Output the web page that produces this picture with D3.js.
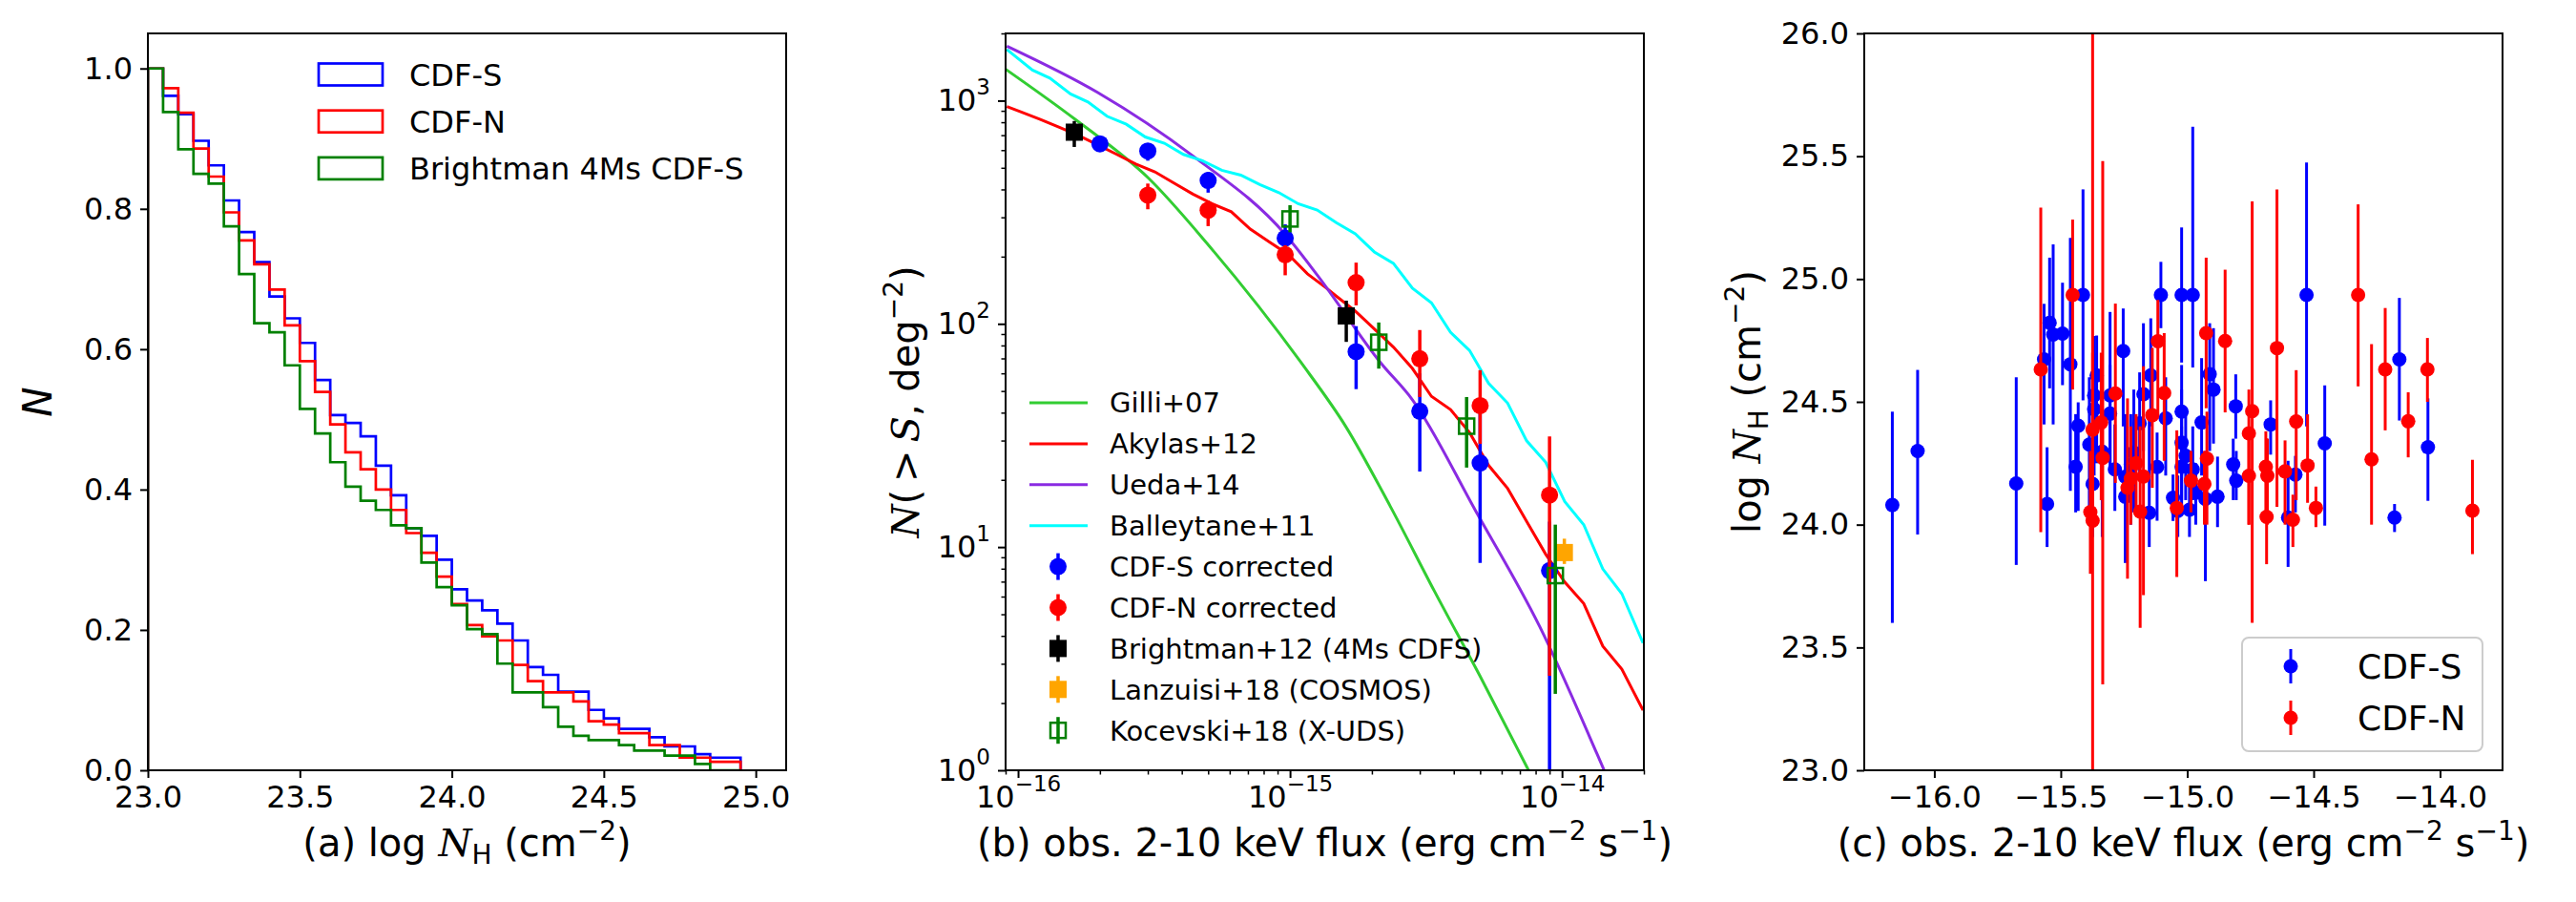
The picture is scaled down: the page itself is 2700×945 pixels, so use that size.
<!DOCTYPE html>
<html>
<head>
<meta charset="utf-8">
<script src="https://cdn.jsdelivr.net/npm/d3@7"></script>
<style>
  body { margin:0; background:#fff; }
  text { font-family:"DejaVu Sans", sans-serif; fill:#000; }
</style>
</head>
<body>
<svg id="fig" width="2700" height="945"></svg>
<script>
// ---------- panel (a): cumulative NH distributions (0.05 dex bins) ----------
const binStarts = [23.00,23.05,23.10,23.15,23.20,23.25,23.30,23.35,23.40,23.45,
  23.50,23.55,23.60,23.65,23.70,23.75,23.80,23.85,23.90,23.95,
  24.00,24.05,24.10,24.15,24.20,24.25,24.30,24.35,24.40,24.45,
  24.50,24.55,24.60,24.65,24.70,24.75,24.80,24.85,24.90]
const lastEdge = 24.95
const histCdfs = [1.0,0.961,0.935,0.897,0.862,0.812,0.767,0.724,0.675,0.644,
  0.609,0.556,0.506,0.495,0.476,0.434,0.392,0.345,0.334,0.300,
  0.258,0.242,0.228,0.209,0.185,0.147,0.136,0.112,0.112,0.086,
  0.074,0.059,0.059,0.047,0.034,0.034,0.023,0.018,0.018]
const histCdfn = [1.0,0.972,0.937,0.886,0.846,0.795,0.755,0.721,0.685,0.634,
  0.583,0.539,0.493,0.453,0.429,0.400,0.371,0.338,0.310,0.276,
  0.237,0.207,0.191,0.185,0.150,0.127,0.111,0.111,0.098,0.070,
  0.065,0.053,0.053,0.036,0.036,0.018,0.018,0.012,0.012]
const histBright = [1.0,0.938,0.885,0.850,0.836,0.775,0.707,0.637,0.624,0.577,
  0.515,0.480,0.439,0.404,0.384,0.371,0.349,0.345,0.296,0.261,
  0.235,0.201,0.194,0.152,0.111,0.111,0.090,0.062,0.049,0.043,
  0.043,0.036,0.028,0.028,0.021,0.021,0.009,0,0]
const histNames = ["CDF-S","CDF-N","Brightman 4Ms CDF-S"]
const histColors = ["#0000ff","#ff0000","#008000"]

// ---------- panel (b): logN-logS models (log10 S, log10 N) ----------
const gilliLogS = [-16.045,-15.79,-15.52,-15.30,-14.959,-14.795,-14.632,-14.468,-14.292,-14.123]
const gilliLogN = [3.14,2.916,2.652,2.353,1.826,1.540,1.184,0.80,0.40,0.0]
const akylasLogS = [-16.041,-15.988,-15.918,-15.848,-15.778,-15.708,-15.637,-15.567,-15.497,-15.427,
  -15.357,-15.287,-15.216,-15.146,-15.076,-15.006,-14.936,-14.866,-14.83,-14.76,-14.69,-14.62,
  -14.55,-14.48,-14.41,-14.34,-14.27,-14.2,-14.13,-14.06,-13.99,-13.92,-13.85,-13.78,-13.702]
const akylasLogN = [2.973,2.949,2.916,2.88,2.844,2.802,2.759,2.716,2.681,2.631,
  2.581,2.538,2.502,2.424,2.367,2.31,2.224,2.16,2.124,2.057,1.977,1.896,
  1.8,1.675,1.616,1.513,1.366,1.263,1.115,0.968,0.843,0.747,0.556,0.453,0.269]
const uedaLogS = [-16.041,-15.708,-15.357,-15.017,-14.9,-14.667,-14.55,-14.316,-14.082,-13.871,-13.845]
const uedaLogN = [3.244,3.037,2.752,2.40,2.219,1.826,1.66,1.159,0.644,0.073,0.0]
const ballLogS = [-16.041,-15.947,-15.883,-15.807,-15.743,-15.673,-15.602,-15.532,-15.462,-15.392,
  -15.322,-15.251,-15.181,-15.111,-15.041,-14.97,-14.9,-14.83,-14.76,-14.69,-14.62,-14.55,
  -14.48,-14.41,-14.34,-14.27,-14.2,-14.13,-14.06,-13.99,-13.92,-13.85,-13.78,-13.702]
const ballLogN = [3.229,3.137,3.101,3.03,2.994,2.93,2.894,2.837,2.809,2.759,
  2.731,2.688,2.666,2.624,2.588,2.538,2.51,2.453,2.403,2.322,2.271,2.16,
  2.094,1.962,1.881,1.734,1.645,1.476,1.38,1.204,1.1,0.902,0.791,0.57]

// panel (b) measured points
const cdfsFlux = [2.0e-16,3.0e-16,5.0e-16,9.6e-16,1.75e-15,3.0e-15,5.0e-15,9.0e-15]
const cdfsN    = [640,595,439,242,75,40.6,23.8,7.84]
const cdfsLo   = [610,538,387,218,51,21.8,8.5,0.5]
const cdfsHi   = [675,644,479,279,97.6,60,40,13]
const cdfnFlux = [3.0e-16,5.0e-16,9.6e-16,1.75e-15,3.0e-15,5.0e-15,9.0e-15]
const cdfnN    = [377,323,204,153,69.8,43,17.1]
const cdfnLo   = [326,274,165,121,47,29,2.65]
const cdfnHi   = [425,357,225,188,93.8,62,31.3]
const brightFlux = [1.61e-16,1.61e-15]
const brightN    = [722,108.5]
const brightLo   = [620,83]
const brightHi   = [810,127]
const lanzFlux = [1.02e-14]
const lanzN    = [9.45]
const lanzLo   = [8.4]
const lanzHi   = [10.9]
const kocFlux = [1.0e-15,2.12e-15,4.46e-15,9.45e-15]
const kocN    = [295,82.7,34.8,7.45]
const kocLo   = [257,63,22.7,2.2]
const kocHi   = [340,101.4,47,12.6]

// ---------- panel (c): log NH vs log flux ----------
const cLogS = [-16.166,-16.066,-15.676,-15.554,-15.566,-15.544,-15.530,-15.493,-15.462,-15.412,
  -15.431,-15.441,-15.387,-15.374,-15.368,-15.368,-15.358,-15.336,-15.305,-15.305,
  -15.286,-15.253,-15.245,-15.245,-15.223,-15.211,-15.188,-15.173,-15.150,-15.144,
  -15.119,-15.104,-15.085,-15.056,-15.037,-15.022,-15.022,-15.022,-15.022,-14.978,
  -15.006,-14.978,-14.991,-14.966,-14.943,-14.928,-14.911,-14.896,-14.880,-14.818,
  -14.808,-14.806,-14.670,-14.601,-14.572,-14.528,-14.456,-14.180,-14.161,-14.048]
const cLogNH = [24.08,24.30,24.168,24.084,24.673,24.822,24.774,24.778,24.653,24.935,
  24.403,24.236,24.326,24.166,24.526,24.47,24.608,24.297,24.526,24.452,
  24.225,24.707,24.195,24.114,24.245,24.294,24.413,24.531,24.048,24.608,
  24.235,24.935,24.433,24.109,24.056,24.935,24.46,24.334,24.236,24.935,
  24.28,24.225,24.061,24.13,24.416,24.105,24.613,24.55,24.114,24.245,
  24.482,24.179,24.408,24.029,24.204,24.935,24.331,24.029,24.673,24.315]
const cLo = [23.60,23.96,23.836,23.909,24.408,24.555,24.408,24.568,24.138,24.506,
  24.056,24.05,24.0,23.95,24.277,24.2,24.25,23.95,24.212,24.25,
  24.056,24.4,23.95,23.844,24.0,24.05,24.2,24.3,23.909,24.4,
  24.016,24.8,24.2,24.015,23.95,24.66,24.2,24.1,24.05,24.64,
  24.1,24.1,23.95,24.0,24.2,23.77,24.3,24.33,23.99,24.1,
  24.35,24.1,24.285,23.828,24.05,24.40,23.996,23.97,24.424,24.097]
const cHi = [24.46,24.63,24.60,24.315,24.899,25.087,25.141,24.985,25.167,25.365,
  24.498,24.45,24.6,24.4,24.768,24.7,24.77,24.6,24.866,24.65,
  24.408,24.88,24.45,24.31,24.45,24.55,24.62,24.82,24.44,24.84,
  24.375,25.07,24.6,24.204,24.2,25.21,24.65,24.55,24.4,25.62,
  24.45,24.4,24.2,24.25,24.678,24.3,24.82,24.8,24.277,24.35,
  24.612,24.3,24.506,24.26,24.28,25.474,24.567,24.084,24.923,24.514]
const nLogS = [-15.579,-15.453,-15.383,-15.374,-15.334,-15.374,-15.340,-15.284,-15.236,-15.223,
  -15.202,-15.186,-15.173,-15.138,-15.116,-15.091,-15.041,-14.985,-14.932,-14.922,
  -14.925,-14.850,-14.756,-14.756,-14.743,-14.689,-14.683,-14.686,-14.645,-14.613,
  -14.582,-14.569,-14.524,-14.491,-14.324,-14.271,-14.217,-14.126,-14.050,-13.872]
const nLogNH = [24.632,24.935,24.051,24.016,24.272,24.387,24.416,24.534,24.15,24.187,
  24.25,24.053,24.196,24.446,24.747,24.536,24.068,24.179,24.166,24.269,
  24.78,24.748,24.372,24.199,24.462,24.236,24.199,24.032,24.719,24.217,
  24.02,24.42,24.241,24.068,24.935,24.266,24.632,24.421,24.632,24.057]
const nLo = [23.97,24.55,23.8,22.5,23.35,24.0,24.1,24.17,23.78,24.0,
  24.05,23.58,23.713,24.15,24.45,24.26,23.787,24.05,24.0,24.0,
  24.474,24.457,24.0,24.0,23.6,24.05,24.0,23.839,24.073,24.0,
  23.909,24.1,24.089,23.99,24.563,24.0,24.384,24.274,24.5,23.88]
const nHi = [25.291,25.242,24.3,26.5,25.48,24.7,24.7,24.9,24.514,24.4,
  24.45,24.4,24.645,24.72,24.915,24.78,24.384,24.3,24.3,24.46,
  25.087,25.038,24.55,24.35,25.316,24.38,24.35,24.351,25.365,24.343,
  24.122,24.629,24.449,24.155,25.304,24.735,24.882,24.539,24.76,24.264]

// ---------- layout ----------
const svg = d3.select("#fig")
const yTop = 35, yBot = 807
const tickFs = 32, labFs = 40
const minus = "\u2212"
const mathFont = "DejaVu Serif"

function frame(x0, x1) {
  svg.append("rect").attr("x", x0).attr("y", yTop).attr("width", x1 - x0).attr("height", yBot - yTop)
    .attr("fill", "none").attr("stroke", "#000").attr("stroke-width", 2)
}
function styleAxis(g, size) {
  g.select(".domain").remove()
  g.selectAll(".tick line").attr("stroke", "#000").attr("stroke-width", size > 5 ? 2 : 1.5)
  g.selectAll(".tick text").attr("font-size", tickFs).attr("fill", "#000")
    .attr("font-family", "DejaVu Sans")
}
function powLabels(g) {
  g.selectAll(".tick text").each(function(d) {
    const e = Math.round(Math.log10(d))
    const t = d3.select(this).text(null)
    t.append("tspan").text("10")
    t.append("tspan").attr("font-size", 23).attr("dy", -17).text(e < 0 ? minus + (-e) : e)
  })
}
// rich text: parts are [string, kind] with kind in i / sub / sup
function rich(t, parts, fs) {
  let shift = 0
  parts.forEach(p => {
    const ts = t.append("tspan").text(p[0])
    let want = 0
    if (p[1] === "i") ts.attr("font-style", "italic").attr("font-family", mathFont)
    if (p[1] === "sup") { ts.attr("font-size", fs * 0.7); want = -fs * 0.42 }
    if (p[1] === "sub") { ts.attr("font-size", fs * 0.7); want = fs * 0.2 }
    if (want !== shift) ts.attr("dy", want - shift)
    shift = want
  })
}
function clip(id, x0, x1) {
  svg.append("clipPath").attr("id", id).append("rect")
    .attr("x", x0).attr("y", yTop).attr("width", x1 - x0).attr("height", yBot - yTop)
}

// ================= panel (a) =================
const ax0 = 155, ax1 = 824
const xa = d3.scaleLinear().domain([23, 25.1]).range([ax0, ax1])
const ya = d3.scaleLinear().domain([0, 1.05]).range([yBot, yTop])
clip("clipA", ax0, ax1)
const gA = svg.append("g").attr("clip-path", "url(#clipA)")
const stepPts = vals => {
  const pts = [[binStarts[0], 0]]
  vals.forEach((v, i) => {
    const x1 = i + 1 < binStarts.length ? binStarts[i + 1] : lastEdge
    pts.push([binStarts[i], v], [x1, v])
  })
  pts.push([lastEdge, 0])
  return pts
}
const lineA = d3.line().x(d => xa(d[0])).y(d => ya(d[1]))
;[histCdfs, histCdfn, histBright].forEach((h, k) => {
  gA.append("path").attr("d", lineA(stepPts(h))).attr("fill", "none")
    .attr("stroke", histColors[k]).attr("stroke-width", 2.7).attr("stroke-linejoin", "miter")
})
const gxa = svg.append("g").attr("transform", `translate(0,${yBot})`)
  .call(d3.axisBottom(xa).tickValues([23, 23.5, 24, 24.5, 25]).tickFormat(d3.format(".1f")).tickSize(8).tickPadding(8))
styleAxis(gxa, 8)
const gya = svg.append("g").attr("transform", `translate(${ax0},0)`)
  .call(d3.axisLeft(ya).tickValues([0, 0.2, 0.4, 0.6, 0.8, 1.0]).tickFormat(d3.format(".1f")).tickSize(8).tickPadding(8))
styleAxis(gya, 8)
frame(ax0, ax1)
histNames.forEach((n, k) => {
  const cy = 78 + k * 49.2
  svg.append("rect").attr("x", 334).attr("y", cy - 11.5).attr("width", 67).attr("height", 23)
    .attr("fill", "none").attr("stroke", histColors[k]).attr("stroke-width", 2.7)
  svg.append("text").attr("x", 429).attr("y", cy).attr("dy", "0.36em").attr("font-size", 32).text(n)
})
rich(svg.append("text").attr("x", (ax0 + ax1) / 2).attr("y", 897).attr("text-anchor", "middle").attr("font-size", labFs),
  [["(a) log "], ["N", "i"], ["H", "sub"], [" (cm"], [minus + "2", "sup"], [")"]], labFs)
svg.append("text").attr("transform", `translate(54,${(yTop + yBot) / 2}) rotate(-90)`)
  .attr("text-anchor", "middle").attr("font-size", 42).attr("font-style", "italic")
  .attr("font-family", mathFont).text("N")

// ================= panel (b) =================
const bx0 = 1054, bx1 = 1723
const xb = d3.scaleLog().domain([9e-17, 2e-14]).range([bx0, bx1])
const yb = d3.scaleLog().domain([1, 2000]).range([yBot, yTop])
clip("clipB", bx0, bx1)
const gB = svg.append("g").attr("clip-path", "url(#clipB)")
const models = [
  {name: "Gilli+07", s: gilliLogS, n: gilliLogN, color: "#32cd32", curve: d3.curveMonotoneX},
  {name: "Akylas+12", s: akylasLogS, n: akylasLogN, color: "#ff0000", curve: d3.curveLinear},
  {name: "Ueda+14", s: uedaLogS, n: uedaLogN, color: "#8a2be2", curve: d3.curveMonotoneX},
  {name: "Balleytane+11", s: ballLogS, n: ballLogN, color: "#00ffff", curve: d3.curveLinear}
]
models.forEach(m => {
  const pts = m.s.map((s, i) => [Math.pow(10, s), Math.pow(10, m.n[i])])
  gB.append("path").attr("d", d3.line().curve(m.curve).x(d => xb(d[0])).y(d => yb(d[1]))(pts))
    .attr("fill", "none").attr("stroke", m.color).attr("stroke-width", 3)
})
const pointSets = [
  {name: "CDF-S corrected", f: cdfsFlux, n: cdfsN, lo: cdfsLo, hi: cdfsHi, color: "#0000ff", shape: "circle"},
  {name: "CDF-N corrected", f: cdfnFlux, n: cdfnN, lo: cdfnLo, hi: cdfnHi, color: "#ff0000", shape: "circle"},
  {name: "Brightman+12 (4Ms CDFS)", f: brightFlux, n: brightN, lo: brightLo, hi: brightHi, color: "#000000", shape: "square"},
  {name: "Lanzuisi+18 (COSMOS)", f: lanzFlux, n: lanzN, lo: lanzLo, hi: lanzHi, color: "#ffa500", shape: "square"},
  {name: "Kocevski+18 (X-UDS)", f: kocFlux, n: kocN, lo: kocLo, hi: kocHi, color: "#008000", shape: "open"}
]
function marker(g, shape, color, x, y) {
  if (shape === "circle") g.append("circle").attr("cx", x).attr("cy", y).attr("r", 9).attr("fill", color)
  else if (shape === "square") g.append("rect").attr("x", x - 9).attr("y", y - 9).attr("width", 18).attr("height", 18).attr("fill", color)
  else g.append("rect").attr("x", x - 8).attr("y", y - 8).attr("width", 16).attr("height", 16)
    .attr("fill", "none").attr("stroke", color).attr("stroke-width", 2.5)
}
pointSets.forEach(p => {
  p.f.forEach((f, i) => {
    gB.append("line").attr("x1", xb(f)).attr("x2", xb(f)).attr("y1", yb(p.lo[i])).attr("y2", yb(p.hi[i]))
      .attr("stroke", p.color).attr("stroke-width", 3.5)
  })
  p.f.forEach((f, i) => marker(gB, p.shape, p.color, xb(f), yb(p.n[i])))
})
const gxb = svg.append("g").attr("transform", `translate(0,${yBot})`)
  .call(d3.axisBottom(xb).tickValues([1e-16, 1e-15, 1e-14]).tickSize(8).tickPadding(8))
styleAxis(gxb, 8); powLabels(gxb)
const minorX = [1e-16, 1e-15, 1e-14].flatMap(d => [2,3,4,5,6,7,8,9].map(k => k * d)).filter(v => v <= 2e-14)
const gxbm = svg.append("g").attr("transform", `translate(0,${yBot})`)
  .call(d3.axisBottom(xb).tickValues(minorX.concat([9e-17])).tickFormat("").tickSize(4.5))
styleAxis(gxbm, 4.5)
const gyb = svg.append("g").attr("transform", `translate(${bx0},0)`)
  .call(d3.axisLeft(yb).tickValues([1, 10, 100, 1000]).tickSize(8).tickPadding(8))
styleAxis(gyb, 8); powLabels(gyb)
const minorY = [1, 10, 100, 1000].flatMap(d => [2,3,4,5,6,7,8,9].map(k => k * d)).filter(v => v <= 2000)
const gybm = svg.append("g").attr("transform", `translate(${bx0},0)`)
  .call(d3.axisLeft(yb).tickValues(minorY).tickFormat("").tickSize(4.5))
styleAxis(gybm, 4.5)
frame(bx0, bx1)
// legend (b)
models.forEach((m, k) => {
  const cy = 422 + k * 42.9
  svg.append("line").attr("x1", 1079).attr("x2", 1140).attr("y1", cy).attr("y2", cy)
    .attr("stroke", m.color).attr("stroke-width", 3)
  svg.append("text").attr("x", 1163).attr("y", cy).attr("dy", "0.36em").attr("font-size", 29).text(m.name)
})
pointSets.forEach((p, k) => {
  const cy = 422 + (k + 4) * 42.9
  const g = svg.append("g")
  g.append("line").attr("x1", 1109).attr("x2", 1109).attr("y1", cy - 14).attr("y2", cy + 14)
    .attr("stroke", p.color).attr("stroke-width", 3.5)
  marker(g, p.shape, p.color, 1109, cy)
  svg.append("text").attr("x", 1163).attr("y", cy).attr("dy", "0.36em").attr("font-size", 29).text(p.name)
})
rich(svg.append("text").attr("x", (bx0 + bx1) / 2).attr("y", 897).attr("text-anchor", "middle").attr("font-size", labFs),
  [["(b) obs. 2-10 keV flux (erg cm"], [minus + "2", "sup"], [" s"], [minus + "1", "sup"], [")"]], labFs)
rich(svg.append("text").attr("transform", `translate(963,${(yTop + yBot) / 2}) rotate(-90)`)
  .attr("text-anchor", "middle").attr("font-size", labFs),
  [["N", "i"], ["(\u2009>\u2009"], ["S", "i"], [", deg"], [minus + "2", "sup"], [")"]], labFs)

// ================= panel (c) =================
const cx0 = 1954, cx1 = 2623
const xc = d3.scaleLinear().domain([-16.277, -13.753]).range([cx0, cx1])
const yc = d3.scaleLinear().domain([23, 26]).range([yBot, yTop])
clip("clipC", cx0, cx1)
const gC = svg.append("g").attr("clip-path", "url(#clipC)")
const cSets = [
  {name: "CDF-S", s: cLogS, v: cLogNH, lo: cLo, hi: cHi, color: "#0000ff"},
  {name: "CDF-N", s: nLogS, v: nLogNH, lo: nLo, hi: nHi, color: "#ff0000"}
]
cSets.forEach(p => {
  p.s.forEach((s, i) => {
    gC.append("line").attr("x1", xc(s)).attr("x2", xc(s)).attr("y1", yc(p.lo[i])).attr("y2", yc(p.hi[i]))
      .attr("stroke", p.color).attr("stroke-width", 3)
  })
  p.s.forEach((s, i) => gC.append("circle").attr("cx", xc(s)).attr("cy", yc(p.v[i])).attr("r", 7.5).attr("fill", p.color))
})
const gxc = svg.append("g").attr("transform", `translate(0,${yBot})`)
  .call(d3.axisBottom(xc).tickValues([-16, -15.5, -15, -14.5, -14]).tickFormat(d3.format(".1f")).tickSize(8).tickPadding(8))
styleAxis(gxc, 8)
const gyc = svg.append("g").attr("transform", `translate(${cx0},0)`)
  .call(d3.axisLeft(yc).tickValues([23, 23.5, 24, 24.5, 25, 25.5, 26]).tickFormat(d3.format(".1f")).tickSize(8).tickPadding(8))
styleAxis(gyc, 8)
frame(cx0, cx1)
svg.append("rect").attr("x", 2350).attr("y", 668).attr("width", 252).attr("height", 119).attr("rx", 7)
  .attr("fill", "#fff").attr("fill-opacity", 0.8).attr("stroke", "#cccccc").attr("stroke-width", 2)
cSets.forEach((p, k) => {
  const cy = 698 + k * 54
  svg.append("line").attr("x1", 2401).attr("x2", 2401).attr("y1", cy - 18).attr("y2", cy + 18)
    .attr("stroke", p.color).attr("stroke-width", 3)
  svg.append("circle").attr("cx", 2401).attr("cy", cy).attr("r", 7.5).attr("fill", p.color)
  svg.append("text").attr("x", 2471).attr("y", cy).attr("dy", "0.36em").attr("font-size", 36).text(p.name)
})
rich(svg.append("text").attr("x", (cx0 + cx1) / 2).attr("y", 897).attr("text-anchor", "middle").attr("font-size", labFs),
  [["(c) obs. 2-10 keV flux (erg cm"], [minus + "2", "sup"], [" s"], [minus + "1", "sup"], [")"]], labFs)
rich(svg.append("text").attr("transform", `translate(1845,${(yTop + yBot) / 2}) rotate(-90)`)
  .attr("text-anchor", "middle").attr("font-size", labFs),
  [["log "], ["N", "i"], ["H", "sub"], [" (cm"], [minus + "2", "sup"], [")"]], labFs)
</script>
</body>
</html>
